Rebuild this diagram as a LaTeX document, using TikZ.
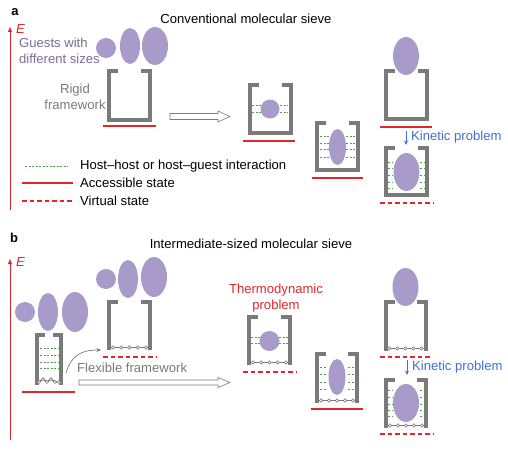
\documentclass[tikz,border=0pt]{standalone}
\usepackage{fontspec}
\setmainfont{Liberation Sans}
\usetikzlibrary{arrows.meta}

\definecolor{framegray}{HTML}{7A7A7A}
\definecolor{guestpurple}{HTML}{A99BC9}
\definecolor{guesttext}{HTML}{7B6B9E}
\definecolor{levelred}{HTML}{E3262B}
\definecolor{kinblue}{HTML}{3F6FD6}
\definecolor{hgreen}{HTML}{4FA04F}
\definecolor{beadfill}{HTML}{F3E6E6}

\tikzset{
  lbl/.style={inner sep=0pt, font=\fontsize{13.1}{16}\selectfont},
  tag/.style={inner sep=0pt, font=\fontsize{13}{15}\selectfont\bfseries},
  wall/.style={draw=framegray, line width=4pt, line join=miter},
  guest/.style={fill=guestpurple},
  hostguest/.style={draw=hgreen, line width=0.7pt, dash pattern=on 2pt off 1.5pt},
  acc/.style={draw=levelred, line width=1.2pt},
  virt/.style={draw=levelred, line width=1.2pt, dash pattern=on 4.5pt off 3pt},
  eaxis/.style={draw=levelred, line width=1pt, -{Triangle[length=5pt,width=4pt]}},
  kinetic/.style={draw=kinblue, line width=1pt, -{Stealth[length=4.5pt,width=4pt]}},
  hollowarrow/.style={draw=framegray, fill=white, line width=0.6pt, line join=miter},
  linker/.style={draw=framegray, line width=1.4pt},
  bead/.style={draw=framegray, fill=beadfill, line width=0.5pt},
  % rigid cage: width/height, origin at the outer bottom centre
  pics/rigidcage/.style args={#1/#2}{code={
    \draw[wall] ({-#1/2+11},{-#2+2}) -- ({-#1/2+2},{-#2+2}) -- ({-#1/2+2},-2)
      -- ({#1/2-2},-2) -- ({#1/2-2},{-#2+2}) -- ({#1/2-11},{-#2+2});
  }},
  % flexible cage: two walls and a chain of linkers at the bottom
  pics/flexcage/.style args={#1/#2}{code={
    \draw[wall] ({-#1/2+11},{-#2+2}) -- ({-#1/2+2},{-#2+2}) -- ({-#1/2+2},0);
    \draw[wall] ({#1/2-11},{-#2+2}) -- ({#1/2-2},{-#2+2}) -- ({#1/2-2},0);
    \draw[linker] ({-#1/2+4},-2.5) -- ({#1/2-4},-2.5);
    \foreach \k in {0,...,4}
      \draw[bead] ({-#1/2+6+\k*(#1-12)/4},-2.5) circle (1.8);
  }},
  % open block arrow: length/half shaft/half head, origin at the tail centre
  pics/blockarrow/.style args={#1/#2/#3}{code={
    \draw[hollowarrow] (0,-#2) -- ({#1-12},-#2) -- ({#1-12},-#3) -- (#1,0)
      -- ({#1-12},#3) -- ({#1-12},#2) -- (0,#2) -- cycle;
  }},
}

\begin{document}
\begin{tikzpicture}[x=1pt,y=-1pt]
\useasboundingbox (0,0) rectangle (508,452);

% ================= panel a =================
\node[tag] (taga) at (15,12) {a};
\node[lbl] (titlea) at (246,19) {Conventional molecular sieve};

% energy axis
\coordinate (Ealow) at (10,210);
\coordinate (Eatop) at (10,27);
\draw[eaxis] (Ealow) -- (Eatop);
\node[lbl, text=levelred, anchor=west] (Ealabel) at (16,29) {\textit{E}};

% guests
\fill[guest] (106,48) circle (10);
\fill[guest] (130,46) ellipse [x radius=10, y radius=18];
\fill[guest] (155,46) ellipse [x radius=13, y radius=19];
\node[lbl, text=guesttext, anchor=west, align=left] (guestsa) at (19,51)
  {Guests with\\different sizes};

% empty rigid framework
\pic at (129.5,122) {rigidcage=45/53};
\draw[acc] (103,126) -- (156,126);
\node[lbl, text=framegray, align=center] (rigid) at (75,97) {Rigid\\framework};

\coordinate (arrowa) at (170,116.5);
\pic at (arrowa) {blockarrow=60/3/5.5};

% small guest inside
\pic at (270,135) {rigidcage=45/52};
\fill[guest] (270,109) circle (9.5);
\foreach \y in {105,112} {
  \draw[hostguest] (252,\y) -- (262,\y);
  \draw[hostguest] (280,\y) -- (288,\y);
}
\draw[acc] (243,141) -- (295,141);

% medium guest inside
\pic at (337.5,172) {rigidcage=45/51};
\fill[guest] (337.5,147) ellipse [x radius=8.5, y radius=18];
\foreach \y in {136,143,149,157} {
  \draw[hostguest] (320,\y) -- (329,\y);
  \draw[hostguest] (346,\y) -- (355,\y);
}
\draw[acc] (312,178) -- (363,178);

% large guest outside and inside
\pic at (406,121) {rigidcage=45/52};
\fill[guest] (406,56) ellipse [x radius=13, y radius=19];
\draw[acc] (380,127) -- (432,127);

\coordinate (kina0) at (406,131);
\coordinate (kina1) at (406,145);
\draw[kinetic] (kina0) -- (kina1);
\node[lbl, text=kinblue, anchor=west] (kinetica) at (411,137) {Kinetic problem};

\pic at (406.5,197) {rigidcage=45/51};
\fill[guest] (406.5,172) ellipse [x radius=13, y radius=19];
\foreach \y in {162,168,175,182,188} {
  \draw[hostguest] (388,\y) -- (393,\y);
  \draw[hostguest] (420,\y) -- (425,\y);
}
\draw[virt] (380,203) -- (434,203);

% legend
\draw[hostguest] (25,166) -- (68,166);
\node[lbl, anchor=west] (leghg) at (80,166) {Host–host or host–guest interaction};
\draw[acc] (22,183) -- (73,183);
\node[lbl, anchor=west] (legacc) at (80,183) {Accessible state};
\draw[virt] (22,201) -- (73,201);
\node[lbl, anchor=west] (legvirt) at (80,201) {Virtual state};

% ================= panel b =================
\node[tag] (tagb) at (14,238) {b};
\node[lbl] (titleb) at (251,244) {Intermediate-sized molecular sieve};

\coordinate (Eblow) at (10,440);
\coordinate (Ebtop) at (10,259);
\draw[eaxis] (Eblow) -- (Ebtop);
\node[lbl, text=levelred, anchor=west] (Eblabel) at (16,262) {\textit{E}};

% guests and compressed framework
\fill[guest] (25,312) circle (10);
\fill[guest] (48,312) ellipse [x radius=10, y radius=19];
\fill[guest] (75,312) ellipse [x radius=13, y radius=20];

\draw[wall] (45,335) -- (37,335) -- (37,385);
\draw[wall] (53,335) -- (61,335) -- (61,385);
\foreach \y in {348,355,362,368} \draw[hostguest] (40,\y) -- (58,\y);
\draw[linker] (39,382) -- (43,379) -- (47,382) -- (51,379) -- (55,382) -- (59,382);
\foreach \p in {(39,382),(43,379),(47,382),(51,379),(55,382),(59,382)}
  \draw[bead] \p circle (1.6);
\draw[acc] (22,392) -- (75,392);

% opened framework
\fill[guest] (106,279) circle (10);
\fill[guest] (128,279) ellipse [x radius=10, y radius=19];
\fill[guest] (154,277) ellipse [x radius=13, y radius=20];
\pic at (129.5,350) {flexcage=45/50};
\draw[virt] (103,357) -- (157,357);

\coordinate (flexa) at (66,373);
\coordinate (flexb) at (101,350);
\draw[framegray, line width=0.7pt, -{Stealth[length=4.5pt,width=4pt]}]
  (flexa) .. controls (72,352) and (86,350) .. (flexb);
\node[lbl, text=framegray, anchor=west] (flexible) at (77,368) {Flexible framework};

\coordinate (arrowb) at (79,382.5);
\pic at (arrowb) {blockarrow=151/2.5/5};

% small guest: thermodynamic problem
\node[lbl, text=levelred, align=center] (thermo) at (276,298) {Thermodynamic\\problem};
\pic at (269.5,365) {flexcage=45/50};
\fill[guest] (269.5,341) circle (10);
\foreach \y in {337,343} {
  \draw[hostguest] (251,\y) -- (260,\y);
  \draw[hostguest] (279,\y) -- (288,\y);
}
\draw[virt] (243,372) -- (296,372);

% medium guest
\pic at (337,403) {flexcage=44/51};
\fill[guest] (337,377) ellipse [x radius=8.5, y radius=18];
\foreach \y in {367,374,382,389} {
  \draw[hostguest] (320,\y) -- (326,\y);
  \draw[hostguest] (348,\y) -- (354,\y);
}
\draw[acc] (311,409) -- (363,409);

% large guest
\pic at (405.5,351) {flexcage=44/51};
\fill[guest] (405.5,287) ellipse [x radius=13, y radius=19];
\draw[virt] (380,357) -- (432,357);

\coordinate (kinb0) at (407,360);
\coordinate (kinb1) at (407,375);
\draw[kinetic] (kinb0) -- (kinb1);
\node[lbl, text=kinblue, anchor=west] (kineticb) at (412,367) {Kinetic problem};

\pic at (406,428) {flexcage=44/50};
\fill[guest] (406,403) ellipse [x radius=13, y radius=19];
\foreach \y in {390,397,404,410,416} {
  \draw[hostguest] (388,\y) -- (392,\y);
  \draw[hostguest] (420,\y) -- (424,\y);
}
\draw[virt] (380,434) -- (433,434);

\end{tikzpicture}
\end{document}
